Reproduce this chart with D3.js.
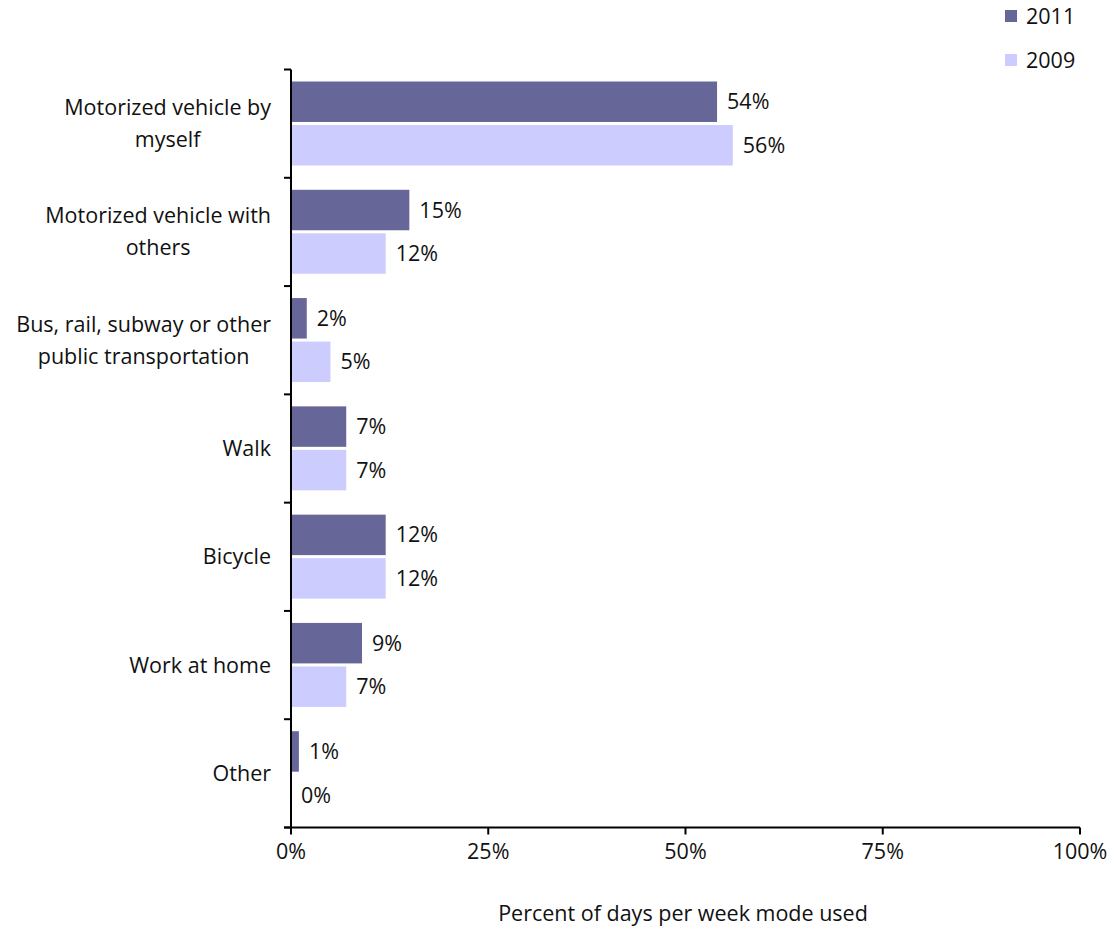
<!DOCTYPE html>
<html><head><meta charset="utf-8">
<script src="https://cdn.jsdelivr.net/npm/d3@7"></script>
<style>body{margin:0;background:#fff}svg text{font-family:"Open Sans",sans-serif;fill:#111}</style>
</head><body><svg id="c" width="1113" height="930"></svg>
<script>
const categories = [
  ["Motorized vehicle by","myself"],
  ["Motorized vehicle with","others"],
  ["Bus, rail, subway or other","public transportation"],
  ["Walk"],
  ["Bicycle"],
  ["Work at home"],
  ["Other"]
];
const values2011 = [54, 15, 2, 7, 12, 9, 1];
const values2009 = [56, 12, 5, 7, 12, 7, 0];
const seriesNames = ["2011", "2009"];
const xTicks = [0, 25, 50, 75, 100];
const colors = ["#666699", "#ccccff"];
const fs = 21.5;

const svg = d3.select("#c");
const x = d3.scaleLinear().domain([0,100]).range([291,1080]);
const y = d3.scaleBand().domain(d3.range(categories.length)).range([69.5,827.5]);
const inner = d3.scaleBand().domain([0,1]).range([12,96]).paddingInner(0.07);

const series = [values2011, values2009];
series.forEach((vals, si) => {
  svg.append("g").selectAll("rect").data(vals).join("rect")
    .attr("x", x(0)).attr("y", (d,i)=>y(i)+inner(si))
    .attr("width", d=>x(d)-x(0)).attr("height", inner.bandwidth())
    .attr("fill", colors[si]);
  svg.append("g").selectAll("text").data(vals).join("text")
    .attr("x", d=>x(d)+10).attr("y", (d,i)=>y(i)+inner(si)+inner.bandwidth()/2)
    .attr("dy","0.35em").attr("font-size",fs).text(d=>d+"%");
});

// y axis
const ya = svg.append("g").attr("transform",`translate(${x(0)},0)`);
ya.append("line").attr("y1",y.range()[0]).attr("y2",y.range()[1]).attr("stroke","#000").attr("stroke-width",2);
const yt = d3.range(categories.length+1).map(i=>y.range()[0]+i*y.step());
ya.selectAll(".t").data(yt).join("line").attr("x1",-7).attr("x2",0).attr("y1",d=>d).attr("y2",d=>d).attr("stroke","#000").attr("stroke-width",2);

// x axis
const xa = svg.append("g").attr("transform",`translate(0,${y.range()[1]})`);
xa.append("line").attr("x1",x(0)-7).attr("x2",x(100)).attr("stroke","#000").attr("stroke-width",2);
xa.selectAll(".t").data(xTicks).join("line").attr("x1",d=>x(d)).attr("x2",d=>x(d)).attr("y1",0).attr("y2",7).attr("stroke","#000").attr("stroke-width",2);
xa.selectAll("text").data(xTicks).join("text").attr("x",d=>x(d)).attr("y",31).attr("text-anchor","middle").attr("font-size",fs).text(d=>d+"%");

svg.append("text").attr("x",683).attr("y",921).attr("text-anchor","middle").attr("font-size",fs).text("Percent of days per week mode used");

// category labels
categories.forEach((lines,i)=>{
  const g = svg.append("g");
  const ts = lines.map((l,j)=>g.append("text").attr("font-size",fs).attr("text-anchor","middle")
     .attr("y", y(i)+y.bandwidth()/2 + (j-(lines.length-1)/2)*32).attr("dy","0.35em").text(l));
  const w = d3.max(ts, t=>t.node().getComputedTextLength());
  ts.forEach(t=>t.attr("x", 271 - w/2));
});

// legend
seriesNames.forEach((n,i)=>{
  svg.append("rect").attr("x",1005).attr("y",10+i*44).attr("width",12).attr("height",12).attr("fill",colors[i]);
  svg.append("text").attr("x",1026).attr("y",16+i*44).attr("dy","0.35em").attr("font-size",fs).text(n);
});
</script></body></html>
